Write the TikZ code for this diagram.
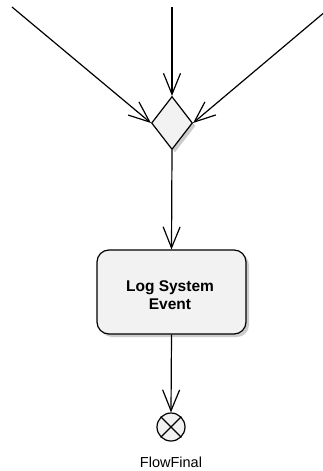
\documentclass[tikz,border=0pt]{standalone}
\usepackage{fontspec}
\setmainfont{Liberation Sans}
\usetikzlibrary{arrows.meta,shapes.geometric,shadows}
\definecolor{nodefill}{HTML}{F2F2F2}
\definecolor{shadowgray}{HTML}{9A9A9A}
\tikzset{
  flow/.style={line width=1.2pt,-{Straight Barb[length=21pt,width=17pt,line width=1.2pt]}},
  merge/.style={diamond,draw,line width=1.2pt,fill=nodefill,inner sep=0pt,minimum width=41pt,minimum height=53pt,drop shadow={shadow xshift=3pt,shadow yshift=-3pt,fill=shadowgray}},
  actionbox/.style={rectangle,rounded corners=12pt,draw,line width=1.2pt,fill=nodefill,minimum width=149pt,minimum height=84pt,drop shadow={shadow xshift=3pt,shadow yshift=-3pt,fill=shadowgray}},
  boxtext/.style={font=\fontsize{15.5}{17.5}\selectfont\bfseries,align=center,inner sep=0pt},
  finalnode/.style={circle,draw,line width=1.2pt,fill=nodefill,minimum size=28pt,inner sep=0pt}
}
\begin{document}
\begin{tikzpicture}[x=1pt,y=-1pt]
\useasboundingbox (0,0) rectangle (322,471);
% nodes
\node[merge] (merge) at (172,123) {};
\node[actionbox] (log) at (171.5,292) {};
\node[boxtext] (logtext) at (170,295) {Log System\\Event};
\node[finalnode] (final) at (171,427) {};
\node[font=\fontsize{14.5}{16}\selectfont,anchor=base] (finallabel) at (171,467) {FlowFinal};
\draw[line width=1.2pt] (final.45)--(final.225) (final.135)--(final.315);
% incoming ends
\coordinate (inleft) at (12,7);
\coordinate (intop) at (172,7);
\coordinate (inright) at (326,11);
% connectors
\draw[flow] (inleft)--(merge.west);
\draw[flow] (intop)--(merge.north);
\draw[flow] (inright)--(merge.east);
\draw[flow] (merge.south)--(log.north);
\draw[flow] (log.south)--(final.north);
\end{tikzpicture}
\end{document}
